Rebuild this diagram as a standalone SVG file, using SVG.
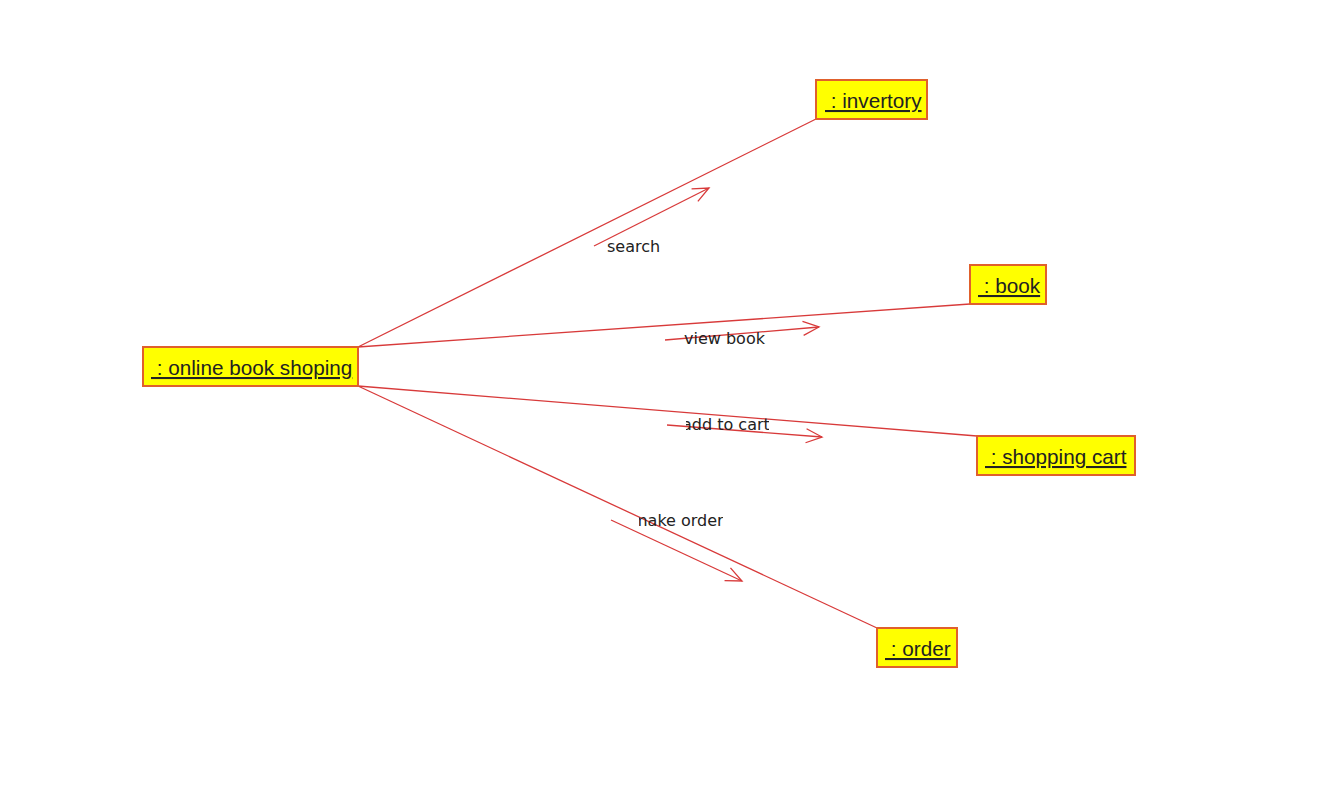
<svg xmlns="http://www.w3.org/2000/svg" width="1320" height="802" viewBox="0 0 1320 802">
  <style>
    .obj rect { fill: #ffff00; stroke: #e0602c; stroke-width: 2; }
    .obj text { font-family: "Liberation Sans", Arial, sans-serif; font-size: 20.7px; fill: #222; text-decoration: underline; white-space: pre; }
    .link { stroke: #d83a3a; stroke-width: 1.3; fill: none; }
    .msg { stroke: #d83a3a; stroke-width: 1.3; fill: none; }
    .lbl { font-family: "DejaVu Sans", Verdana, sans-serif; font-size: 16px; fill: #222; }
  </style>
  <defs>
    <marker id="open" viewBox="0 0 20 20" refX="18" refY="10" markerWidth="20" markerHeight="20" markerUnits="userSpaceOnUse" orient="auto">
      <path d="M2,3 L18,10 L2,17" fill="none" stroke="#d83a3a" stroke-width="1.3"/>
    </marker>
    <clipPath id="clipCart"><rect x="686" y="410" width="83" height="30"/></clipPath>
    <clipPath id="clipOrder"><rect x="639" y="505" width="84" height="30"/></clipPath>
  </defs>
  <rect width="1320" height="802" fill="#ffffff"/>

  <!-- links between objects -->
  <g id="connectors">
    <line class="link" x1="358" y1="347" x2="816" y2="119"/>
    <line class="link" x1="358" y1="347" x2="970" y2="304"/>
    <line class="link" x1="358" y1="386" x2="977" y2="436"/>
    <line class="link" x1="358" y1="386" x2="877" y2="628"/>

    <!-- messages -->
    <line class="msg" x1="594" y1="246" x2="709" y2="188" marker-end="url(#open)"/>
    <line class="msg" x1="665" y1="340" x2="819" y2="327" marker-end="url(#open)"/>
    <line class="msg" x1="667" y1="425" x2="822" y2="437" marker-end="url(#open)"/>
    <line class="msg" x1="611" y1="520" x2="742" y2="581" marker-end="url(#open)"/>

    <text class="lbl" x="607" y="252">search</text>
    <text class="lbl" x="684" y="344">view book</text>
    <text class="lbl" x="682" y="430" clip-path="url(#clipCart)">add to cart</text>
    <text class="lbl" x="632" y="526" clip-path="url(#clipOrder)">make order</text>
  </g>

  <g id="online-book-shoping" class="obj">
    <rect x="143" y="347" width="215" height="39"/>
    <text x="151" y="375" xml:space="preserve"> : online book shoping</text>
  </g>
  <g id="invertory" class="obj">
    <rect x="816" y="80" width="111" height="39"/>
    <text x="825" y="108" xml:space="preserve"> : invertory</text>
  </g>
  <g id="book" class="obj">
    <rect x="970" y="265" width="76" height="39"/>
    <text x="978" y="293" xml:space="preserve"> : book</text>
  </g>
  <g id="shopping-cart" class="obj">
    <rect x="977" y="436" width="158" height="39"/>
    <text x="985" y="464" xml:space="preserve"> : shopping cart</text>
  </g>
  <g id="order" class="obj">
    <rect x="877" y="628" width="80" height="39"/>
    <text x="885" y="656" xml:space="preserve"> : order</text>
  </g>
</svg>
